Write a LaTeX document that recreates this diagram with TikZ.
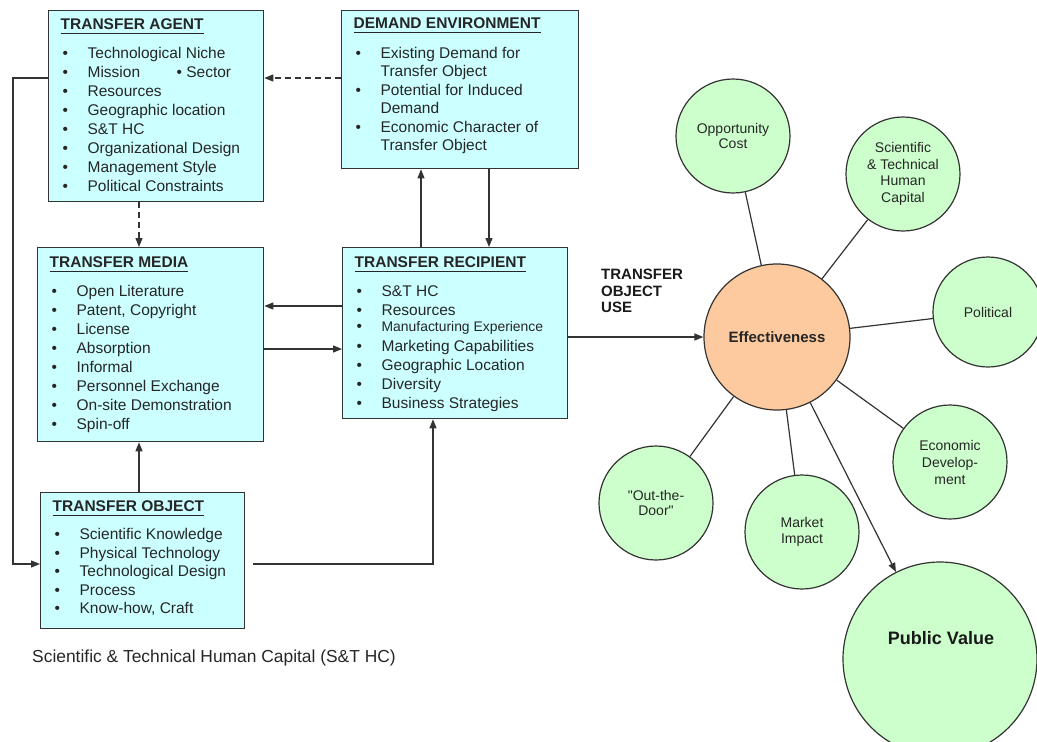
\documentclass[tikz,border=0pt]{standalone}
\usepackage{fontspec}
\setmainfont{Liberation Sans}
\usetikzlibrary{arrows.meta}
\definecolor{boxcyan}{RGB}{204,255,255}
\definecolor{circgreen}{RGB}{204,255,204}
\definecolor{effpeach}{RGB}{252,202,158}
\newsavebox\ttlbox
\newcommand\ttl[1]{\leavevmode\sbox\ttlbox{\textbf{#1}}\rlap{\rule[-4.5pt]{\wd\ttlbox}{1.3pt}}\usebox\ttlbox}
\newcommand\itm{\hspace*{2pt}\makebox[25pt][l]{\textbullet}}
\newcommand\cnt{\hspace*{27pt}}
\newcommand\boxtext[4]{\parbox[c][#2][t]{#1}{\raggedright\fontsize{15.5}{#3}\selectfont #4}}
\begin{document}
\begin{tikzpicture}[x=1pt,y=-1pt,
	tbox/.style={draw=black!80,fill=boxcyan,text=black!85,line width=1.3pt,inner xsep=12pt,inner ysep=8pt,anchor=north west},
	bub/.style={circle,draw=black!80,fill=circgreen,text=black!85,line width=1.2pt,minimum size=114pt,inner sep=0pt,align=center,font=\fontsize{14}{15.5}\selectfont},
	con/.style={draw=black!80,line width=1.2pt},
	arr/.style={con,-{Triangle[length=9pt,width=7pt]}},
	darr/.style={arr,dash pattern=on 6pt off 4pt}]
	\useasboundingbox (0,0) rectangle (1037,742);
	\clip (0,0) rectangle (1037,742);
	\node[tbox] (agent) at (48,10) {\boxtext{191pt}{175pt}{19pt}{\ttl{TRANSFER AGENT}\\[10pt]
		\itm Technological Niche\\
		\itm\makebox[89pt][l]{Mission}\textbullet\ Sector\\
		\itm Resources\\
		\itm Geographic location\\
		\itm S\&T HC\\
		\itm Organizational Design\\
		\itm Management Style\\
		\itm Political Constraints}};
	\node[tbox,inner ysep=7.5pt] (demand) at (341,10) {\boxtext{213pt}{143pt}{18.5pt}{\ttl{DEMAND ENVIRONMENT}\\[11pt]
		\itm Existing Demand for\\
		\cnt Transfer Object\\
		\itm Potential for Induced\\
		\cnt Demand\\
		\itm Economic Character of\\
		\cnt Transfer Object}};
	\node[tbox,inner ysep=9pt] (media) at (37,247) {\boxtext{202pt}{176pt}{19pt}{\ttl{TRANSFER MEDIA}\\[10.5pt]
		\itm Open Literature\\
		\itm Patent, Copyright\\
		\itm License\\
		\itm Absorption\\
		\itm Informal\\
		\itm Personnel Exchange\\
		\itm On-site Demonstration\\
		\itm Spin-off}};
	\node[tbox,inner ysep=9pt] (recipient) at (342,247) {\boxtext{201pt}{153pt}{19pt}{\ttl{TRANSFER RECIPIENT}\\[10.5pt]
		\itm S\&T HC\\
		\itm Resources\\[-3pt]
		\itm{\fontsize{13.9}{16}\selectfont Manufacturing Experience}\\[1pt]
		\itm Marketing Capabilities\\
		\itm Geographic Location\\
		\itm Diversity\\
		\itm Business Strategies}};
	\node[tbox] (object) at (40,492) {\boxtext{180pt}{120pt}{18.5pt}{\ttl{TRANSFER OBJECT}\\[10pt]
		\itm Scientific Knowledge\\
		\itm Physical Technology\\
		\itm Technological Design\\
		\itm Process\\
		\itm Know-how, Craft}};
	\node[anchor=west,inner sep=0pt,text=black!85,font=\fontsize{17.4}{20}\selectfont] (note) at (32,658) {Scientific \& Technical Human Capital (S\&T HC)};
	\node[anchor=north west,inner sep=0pt,align=left,text=black!90,font=\bfseries\fontsize{15}{16.5}\selectfont] (use) at (601,269) {TRANSFER\\OBJECT\\USE};
	\node[bub,fill=effpeach,minimum size=146pt,font=\bfseries\fontsize{15}{16}\selectfont] (eff) at (777,337) {Effectiveness};
	\node[bub] (opp) at (733,136) {Opportunity\\Cost};
	\node[bub,font=\fontsize{14}{16.5}\selectfont] (sthc) at (903,174) {Scientific\\\& Technical\\Human\\Capital};
	\node[bub,minimum size=110pt] (pol) at (988,312) {Political};
	\node[bub,font=\fontsize{14}{17}\selectfont] (econ) at (950,462) {Economic\\Develop-\\ment};
	\node[bub] (door) at (656,503) {\textquotedbl Out-the-\\Door\textquotedbl};
	\node[bub] (market) at (802,532) {Market\\Impact};
	\node[bub,minimum size=194pt] (pv) at (940,659) {};
	\node[text=black!90,font=\bfseries\fontsize{18}{20}\selectfont] (pvtext) at (941,638) {Public Value};
	\coordinate (side) at (13,0);
	\coordinate (objout) at ([xshift=8pt]object.east);
	\draw[darr] (demand.west |- 0,78) -- (agent.east |- 0,78);
	\draw[darr] (agent.south -| 139,0) -- (media.north -| 139,0);
	\draw[arr] (recipient.north -| 421,0) -- (demand.south -| 421,0);
	\draw[arr] (demand.south -| 489,0) -- (recipient.north -| 489,0);
	\draw[arr] (recipient.west |- 0,306) -- (media.east |- 0,306);
	\draw[arr] (media.east |- 0,349) -- (recipient.west |- 0,349);
	\draw[arr] (object.north -| 139,0) -- (media.south -| 139,0);
	\draw[arr] (objout |- 0,564) -| (recipient.south -| 433,0);
	\draw[arr] (agent.west |- 0,78) -| (side |- 0,564) -- (object.west |- 0,564);
	\draw[arr] (recipient.east |- eff.west) -- (eff.west);
	\draw[con] (eff) -- (opp) (eff) -- (sthc) (eff) -- (pol)
		(eff) -- (econ) (eff) -- (door) (eff) -- (market);
	\draw[arr] (eff) -- (pv);
\end{tikzpicture}
\end{document}
